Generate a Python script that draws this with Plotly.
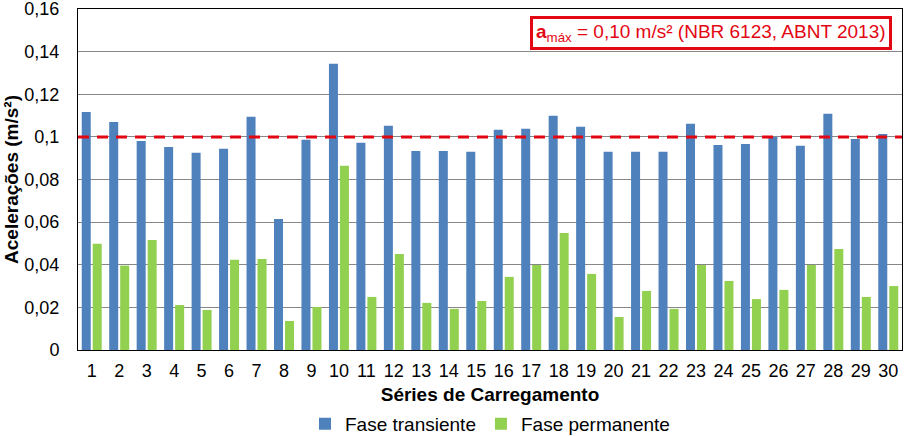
import plotly.graph_objects as go

# Data
series = [str(i) for i in range(1, 31)]
transiente = [0.1117, 0.1070, 0.0981, 0.0953, 0.0925, 0.0944, 0.1094, 0.0615, 0.0986, 0.1343,
              0.0972, 0.1052, 0.0934, 0.0934, 0.0930, 0.1033, 0.1038, 0.1099, 0.1047, 0.0930,
              0.0930, 0.0930, 0.1061, 0.0962, 0.0967, 0.1000, 0.0958, 0.1108, 0.0990, 0.1014]
permanente = [0.0498, 0.0396, 0.0516, 0.0211, 0.0188, 0.0423, 0.0427, 0.0136, 0.0202, 0.0864,
              0.0249, 0.0451, 0.0221, 0.0193, 0.0230, 0.0343, 0.0399, 0.0549, 0.0357, 0.0155,
              0.0277, 0.0193, 0.0399, 0.0324, 0.0239, 0.0282, 0.0399, 0.0474, 0.0249, 0.0300]
LIMIT = 0.10
y_ticks = [0, 0.02, 0.04, 0.06, 0.08, 0.1, 0.12, 0.14, 0.16]
y_labels = ["0", "0,02", "0,04", "0,06", "0,08", "0,1", "0,12", "0,14", "0,16"]

BLUE = "#4F81BD"
GREEN = "#92D050"
RED = "#E30613"
GRID = "#878787"
FONT = "Liberation Sans, Arial, sans-serif"

fig = go.Figure()
fig.add_trace(go.Bar(name="Fase transiente", x=series, y=transiente, marker_color=BLUE,
                     marker_line_width=0))
fig.add_trace(go.Bar(name="Fase permanente", x=series, y=permanente, marker_color=GREEN,
                     marker_line_width=0))

# limit line 0,10 m/s²
fig.add_shape(type="line", xref="paper", x0=0, x1=1, yref="y", y0=LIMIT, y1=LIMIT,
              line=dict(color=RED, width=3, dash="11px,8px"))

fig.add_annotation(
    xref="paper", yref="paper", x=0.988, y=0.979, xanchor="right", yanchor="top",
    text="<b>a</b><sub>máx</sub> = 0,10 m/s² (NBR 6123, ABNT 2013)",
    showarrow=False, font=dict(family=FONT, size=19, color=RED),
    bordercolor=RED, borderwidth=3, borderpad=3, bgcolor="white",
    height=22,
)

fig.update_layout(
    width=908, height=436,
    paper_bgcolor="white", plot_bgcolor="white",
    margin=dict(l=78, r=6, t=9, b=86),
    font=dict(family=FONT, size=18, color="black"),
    barmode="group", bargap=0.2, bargroupgap=0.18,
    showlegend=True,
    legend=dict(orientation="h", x=0.5, xanchor="center",
                yref="container", y=0.028, yanchor="middle",
                font=dict(size=19), itemwidth=30, tracegroupgap=0),
    xaxis=dict(
        title=dict(text="<b>Séries de Carregamento</b>", font=dict(size=19), standoff=19),
        showline=True, linecolor="black", linewidth=1, mirror=True,
        ticks="", tickfont=dict(size=18), ticklabelstandoff=4, showgrid=False,
        automargin=False, ticklabeloverflow="allow",
    ),
    yaxis=dict(
        title=dict(text="<b>Acelerações (m/s²)</b>", font=dict(size=19), standoff=0),
        range=[0, 0.16], tickvals=y_ticks, ticktext=y_labels,
        showline=True, linecolor="black", linewidth=1, mirror=True,
        gridcolor=GRID, gridwidth=1, zeroline=False,
        ticks="", tickfont=dict(size=18), ticklabelstandoff=14,
        automargin=False, ticklabeloverflow="allow",
    ),
)

fig.write_html("out.html", config={"displayModeBar": False},
               post_script="document.body.style.margin = '0px';")
